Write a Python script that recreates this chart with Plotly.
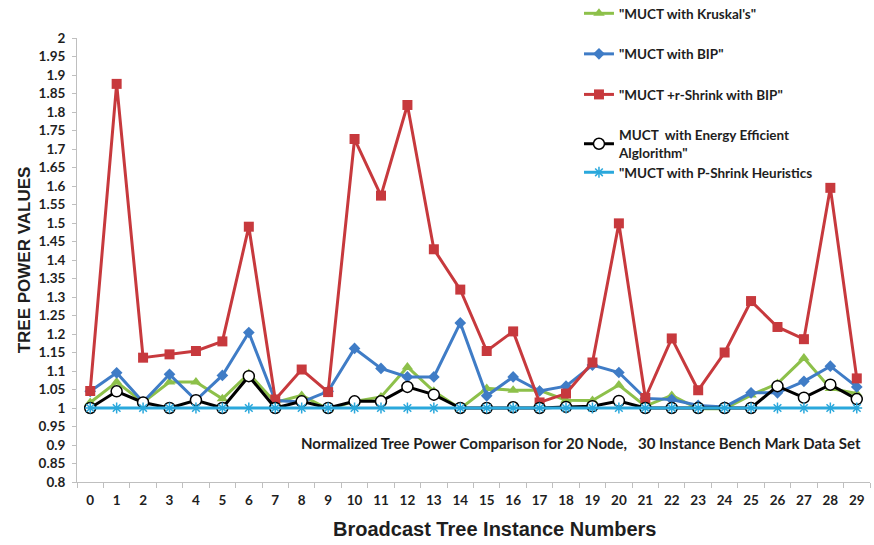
import plotly.graph_objects as go

instances = [str(i) for i in range(30)]

kruskal = [1.015, 1.07, 1.015, 1.07, 1.07, 1.025, 1.093, 1.015, 1.034, 0.997,
           1.018, 1.03, 1.111, 1.045, 0.998, 1.053, 1.048, 1.048, 1.021, 1.02,
           1.062, 1.005, 1.034, 0.998, 0.998, 1.035, 1.066, 1.135, 1.053, 1.039]
bip = [1.045, 1.095, 1.016, 1.091, 1.021, 1.088, 1.204, 1.02, 1.016, 1.045,
       1.161, 1.107, 1.084, 1.084, 1.23, 1.033, 1.084, 1.046, 1.059, 1.116,
       1.096, 1.026, 1.023, 1.007, 1.003, 1.041, 1.041, 1.072, 1.113, 1.057]
rshrink = [1.046, 1.876, 1.136, 1.145, 1.154, 1.18, 1.49, 1.023, 1.104, 1.043,
           1.727, 1.574, 1.819, 1.429, 1.32, 1.154, 1.207, 1.015, 1.039, 1.123,
           1.499, 1.027, 1.188, 1.048, 1.15, 1.289, 1.219, 1.186, 1.595, 1.08]
energy = [1.0, 1.045, 1.015, 1.0, 1.021, 1.0, 1.086, 1.0, 1.018, 1.0,
          1.018, 1.018, 1.057, 1.036, 1.0, 1.0, 1.002, 1.0, 1.003, 1.005,
          1.019, 1.0, 1.0, 1.0, 1.0, 1.0, 1.059, 1.028, 1.063, 1.024]
pshrink = [1.0] * 30

y_ticks = [round(0.8 + 0.05 * i, 2) for i in range(25)]
y_ticktext = [("%g" % v) for v in y_ticks]

series = [
    ("\"MUCT with Kruskal's\"", kruskal, "#8DC04A", "triangle-up", 10, "#8DC04A", 0, "legend"),
    ("\"MUCT with BIP\"", bip, "#3F7CC6", "diamond", 9, "#3F7CC6", 0, "legend"),
    ("\"MUCT +r-Shrink with BIP\"", rshrink, "#C7393D", "square", 10, "#C7393D", 0, "legend"),
    ("MUCT  with Energy Efficient<br>Alglorithm\"", energy, "#000000", "circle", 11, "#FFFFFF", 1.5, "legend"),
    ("\"MUCT with P-Shrink Heuristics", pshrink, "#2AA8DC", "asterisk-open", 9, "#2AA8DC", 1.5, "legend2"),
]

TXT = "#1e1e1e"
LEGFONT = dict(family="Lato", size=13.5, color=TXT, weight="bold")

fig = go.Figure()
for i, (name, vals, col, sym, sz, fill, lw, leg) in enumerate(series):
    fig.add_trace(go.Scatter(
        x=instances, y=vals, name=name, mode="lines+markers",
        legendgroup=str(i), legend=leg,
        line=dict(color=col, width=3),
        marker=dict(symbol=sym, size=sz, color=fill,
                    line=dict(color=col if lw else fill, width=lw)),
    ))

fig.add_annotation(
    x=0.991, y=0.088, xref="paper", yref="paper", xanchor="right", yanchor="middle",
    text="Normalized Tree Power Comparison for 20 Node,   30 Instance Bench Mark Data Set",
    showarrow=False, font=dict(family="Lato", size=15, color=TXT, weight="bold"),
)
fig.add_annotation(
    x=0.527, y=-0.106, xref="paper", yref="paper", xanchor="center", yanchor="middle",
    text="Broadcast Tree Instance Numbers",
    showarrow=False, font=dict(family="Liberation Sans", size=20, color=TXT, weight="bold"),
)

fig.update_layout(
    width=874, height=545,
    margin=dict(l=77, r=4, t=38, b=63, autoexpand=False),
    paper_bgcolor="white", plot_bgcolor="white",
    showlegend=True,
    legend=dict(x=0.633, y=1.09, xanchor="left", yanchor="top",
                bgcolor="rgba(0,0,0,0)", tracegroupgap=20, font=LEGFONT),
    legend2=dict(x=0.633, y=0.732, xanchor="left", yanchor="top",
                 bgcolor="rgba(0,0,0,0)", font=LEGFONT),
    xaxis=dict(type="category", range=[-0.5, 29.5], showgrid=False,
               showline=True, linecolor="#BFBFBF", linewidth=1,
               ticks="outside", tickson="boundaries", tickcolor="#BFBFBF", ticklen=5,
               ticklabelstandoff=6,
               tickfont=dict(family="Lato", size=13.5, color=TXT, weight="bold")),
    yaxis=dict(range=[0.8, 2.0], showgrid=False, zeroline=False,
               showline=True, linecolor="#BFBFBF", linewidth=1,
               tickvals=y_ticks, ticktext=y_ticktext,
               ticks="outside", tickcolor="#BFBFBF", ticklen=4,
               ticklabelstandoff=4,
               tickfont=dict(family="Lato", size=13.5, color=TXT, weight="bold"),
               title=dict(text="TREE POWER VALUES", standoff=3,
                          font=dict(family="Liberation Sans", size=17,
                                    color=TXT, weight="bold"))),
)

fig.write_html("out.html")
